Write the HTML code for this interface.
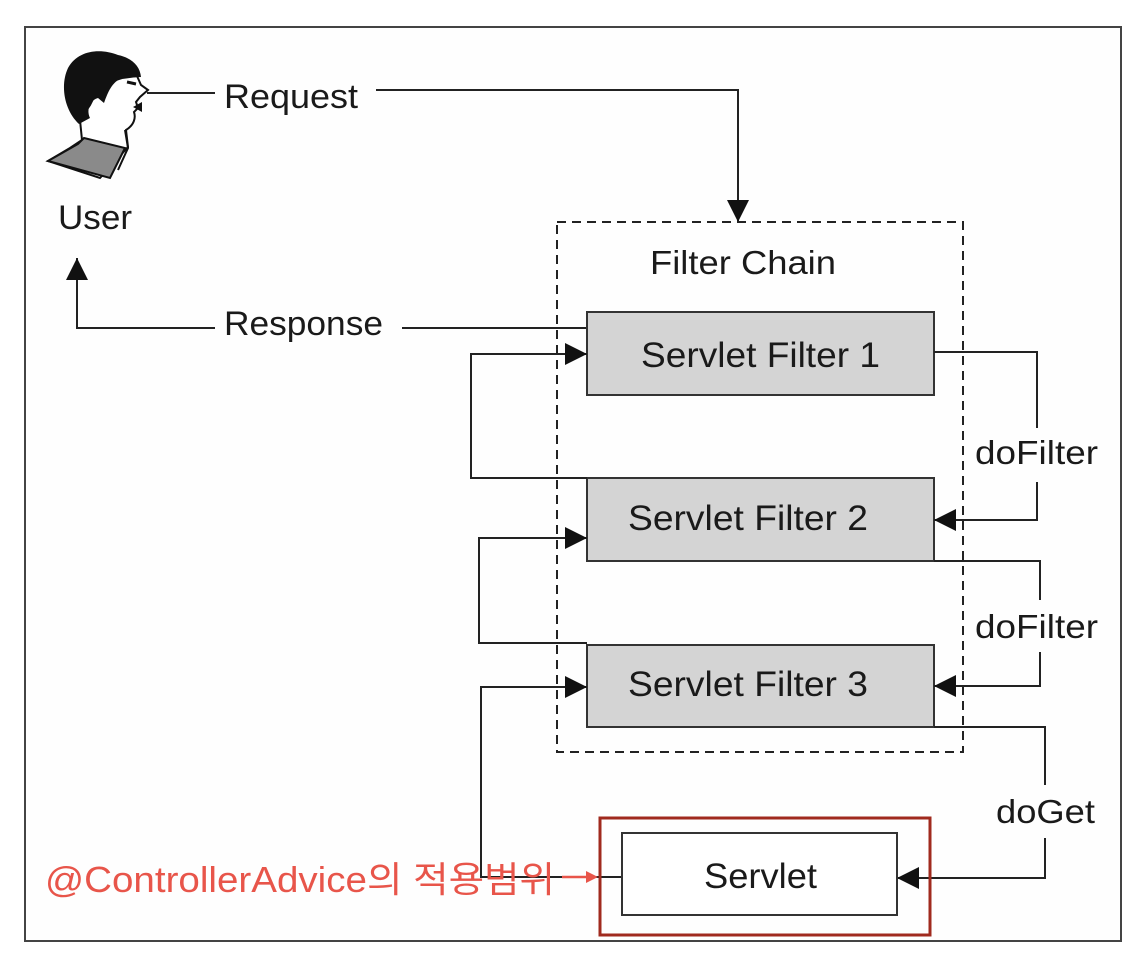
<!DOCTYPE html>
<html><head><meta charset="utf-8"><style>
html,body{margin:0;padding:0;background:#fff;}
svg{display:block;}
text{font-family:"Liberation Sans","Noto Sans CJK KR",sans-serif;fill:#1a1a1a;}
</style></head><body>
<svg width="1146" height="956" viewBox="0 0 1146 956" xmlns="http://www.w3.org/2000/svg">
<defs>
<marker id="a" viewBox="0 0 10 10" refX="10" refY="5" markerWidth="22" markerHeight="22" markerUnits="userSpaceOnUse" orient="auto">
<path d="M0,0 L10,5 L0,10 z" fill="#111"/></marker>
</defs>
<rect x="0" y="0" width="1146" height="956" fill="#fff"/>
<rect x="25" y="27" width="1096" height="914" fill="#fefefe" stroke="#444" stroke-width="2"/>
<!-- user face -->
<path d="M80,120 L82,140 L70,148 L48,161 L100,178 L128,147 L126,130 C134,125 136,118 134,112 L138,108 L136,102 L140,97 L148,90 L141,85 L137,76 L122,78 L100,85 L90,105 z" fill="#fff" stroke="#111" stroke-width="2"/>
<path d="M79,124 C64,110 60,85 68,68 C78,50 100,48 118,55 C132,58 140,66 141,77 L122,78 C112,82 108,92 104,103 L98,98 C90,100 86,110 90,118 z" fill="#111"/>
<path d="M48,161 L78,144 L84,138 L125,148 L110,178 z" fill="#8a8a8a" stroke="#111" stroke-width="2"/>
<path d="M125,130 L128,148 L118,170" fill="none" stroke="#111" stroke-width="2"/>
<path d="M127,82 L136,84" stroke="#111" stroke-width="3"/>
<path d="M133,107 L142,102 L142,112 z" fill="#111"/>
<text x="58" y="229" font-size="34" textLength="74" lengthAdjust="spacingAndGlyphs">User</text>
<!-- request -->
<line x1="147" y1="93" x2="215" y2="93" stroke="#222" stroke-width="2"/>
<text x="224" y="108" font-size="34" textLength="134" lengthAdjust="spacingAndGlyphs">Request</text>
<polyline points="376,90 738,90 738,222" fill="none" stroke="#222" stroke-width="2" marker-end="url(#a)"/>
<!-- response -->
<polyline points="215,328 77,328 77,258" fill="none" stroke="#222" stroke-width="2" marker-end="url(#a)"/>
<text x="224" y="335" font-size="34" textLength="159" lengthAdjust="spacingAndGlyphs">Response</text>
<line x1="402" y1="328" x2="587" y2="328" stroke="#222" stroke-width="2"/>
<!-- dashed chain -->
<rect x="557" y="222" width="406" height="530" fill="none" stroke="#222" stroke-width="2" stroke-dasharray="9,6"/>
<text x="650" y="274" font-size="33" textLength="186" lengthAdjust="spacingAndGlyphs">Filter Chain</text>
<!-- filters -->
<rect x="587" y="312" width="347" height="83" fill="#d4d4d4" stroke="#333" stroke-width="2"/>
<text x="641" y="367" font-size="35" textLength="239" lengthAdjust="spacingAndGlyphs">Servlet Filter 1</text>
<rect x="587" y="478" width="347" height="83" fill="#d4d4d4" stroke="#333" stroke-width="2"/>
<text x="628" y="530" font-size="35" textLength="240" lengthAdjust="spacingAndGlyphs">Servlet Filter 2</text>
<rect x="587" y="645" width="347" height="82" fill="#d4d4d4" stroke="#333" stroke-width="2"/>
<text x="628" y="696" font-size="35" textLength="240" lengthAdjust="spacingAndGlyphs">Servlet Filter 3</text>
<!-- left loops -->
<polyline points="587,478 471,478 471,354 587,354" fill="none" stroke="#222" stroke-width="2" marker-end="url(#a)"/>
<polyline points="587,643 479,643 479,538 587,538" fill="none" stroke="#222" stroke-width="2" marker-end="url(#a)"/>
<polyline points="622,877 481,877 481,687 587,687" fill="none" stroke="#222" stroke-width="2" marker-end="url(#a)"/>
<!-- right loops -->
<polyline points="934,352 1037,352 1037,428" fill="none" stroke="#222" stroke-width="2"/>
<polyline points="1037,482 1037,520 934,520" fill="none" stroke="#222" stroke-width="2" marker-end="url(#a)"/>
<text x="975" y="464" font-size="33" textLength="123" lengthAdjust="spacingAndGlyphs">doFilter</text>
<polyline points="934,561 1040,561 1040,600" fill="none" stroke="#222" stroke-width="2"/>
<polyline points="1040,652 1040,686 934,686" fill="none" stroke="#222" stroke-width="2" marker-end="url(#a)"/>
<text x="975" y="638" font-size="33" textLength="123" lengthAdjust="spacingAndGlyphs">doFilter</text>
<polyline points="934,727 1045,727 1045,785" fill="none" stroke="#222" stroke-width="2"/>
<polyline points="1045,838 1045,878 897,878" fill="none" stroke="#222" stroke-width="2" marker-end="url(#a)"/>
<text x="996" y="823" font-size="33" textLength="99" lengthAdjust="spacingAndGlyphs">doGet</text>
<!-- servlet -->
<rect x="622" y="833" width="275" height="82" fill="#fff" stroke="#333" stroke-width="2"/>
<text x="704" y="888" font-size="35" textLength="113" lengthAdjust="spacingAndGlyphs">Servlet</text>
<rect x="600" y="818" width="330" height="117" fill="none" stroke="#a02a1e" stroke-width="3"/>
<text x="45" y="892" font-size="36" textLength="510" lengthAdjust="spacingAndGlyphs" style="fill:#e8554a">@ControllerAdvice의 적용범위</text>
<line x1="562" y1="877" x2="590" y2="877" stroke="#e8554a" stroke-width="2.5"/>
<path d="M598,877 L586,871 L586,883 z" fill="#e8554a"/>
</svg>
</body></html>
